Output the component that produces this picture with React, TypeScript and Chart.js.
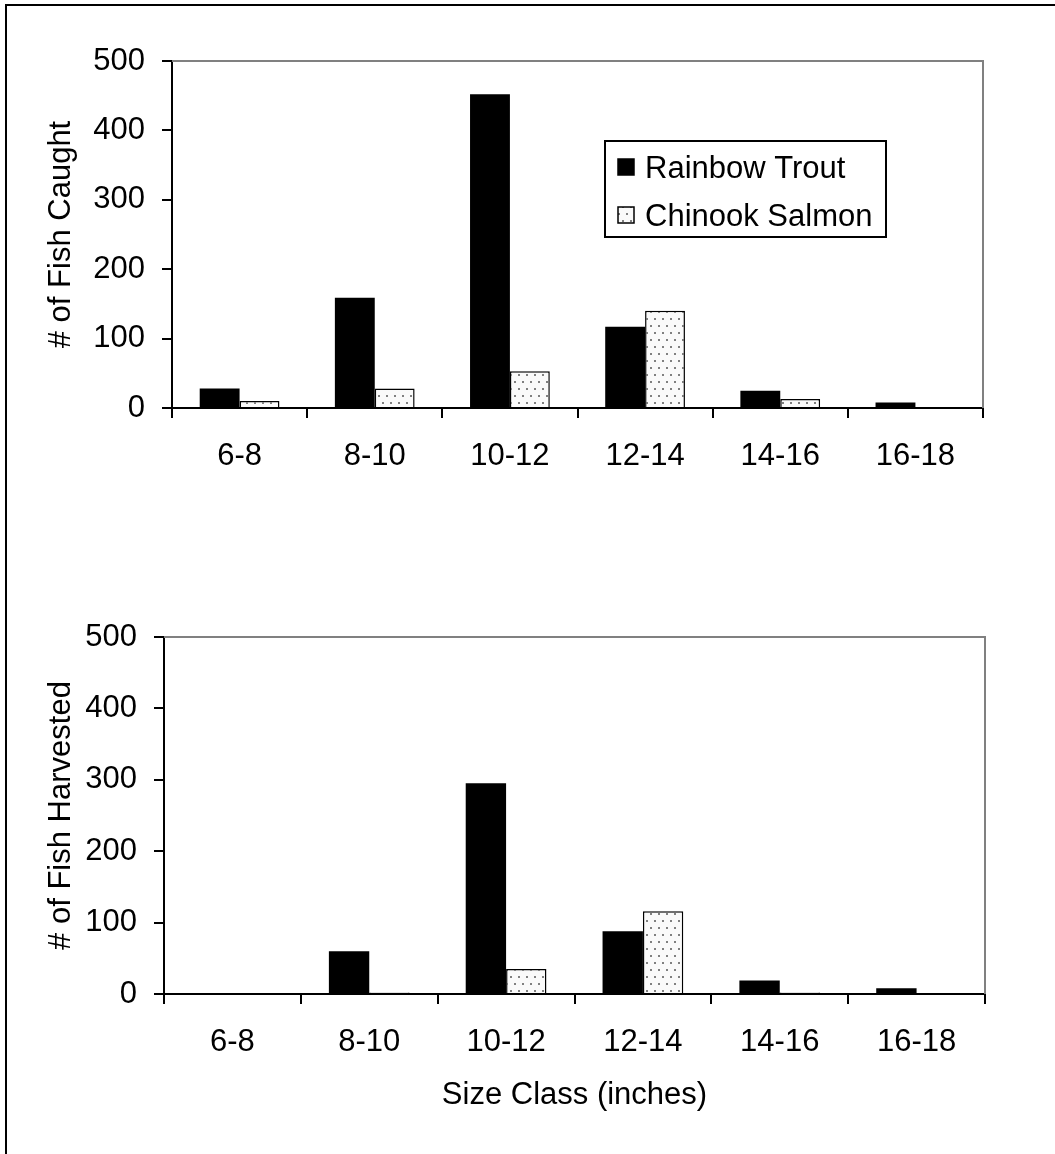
import React, { useEffect, useRef } from "react";
import { Chart, registerables } from "chart.js";

Chart.register(...registerables);

// ---- Data ----
const sizeClasses = ["6-8", "8-10", "10-12", "12-14", "14-16", "16-18"];
const seriesNames = ["Rainbow Trout", "Chinook Salmon"];
const caughtRainbow = [28, 159, 452, 117, 25, 8];
const caughtChinook = [10, 28, 53, 140, 13, 0];
const harvestedRainbow = [0, 60, 295, 88, 19, 8];
const harvestedChinook = [0, 2, 35, 116, 2, 0];
const yTicks = [0, 100, 200, 300, 400, 500];
const yTitleTop = "# of Fish Caught";
const yTitleBottom = "# of Fish Harvested";
const xTitle = "Size Class (inches)";

const FONT = "'Liberation Sans', Arial, sans-serif";
const FS = 31;

function makeDotPattern(): CanvasPattern | string {
  const c = document.createElement("canvas");
  c.width = 8;
  c.height = 14;
  const g = c.getContext("2d");
  if (!g) return "#fff";
  g.fillStyle = "#fafafa";
  g.fillRect(0, 0, 8, 14);
  g.fillStyle = "#808080";
  g.fillRect(2, 3, 2, 2);
  g.fillRect(6, 10, 2, 2);
  const p = g.createPattern(c, "repeat");
  return p || "#fff";
}

const frameTopRightPlugin = {
  id: "frameTopRight",
  afterDraw(chart: any) {
    const { ctx, chartArea } = chart;
    ctx.save();
    ctx.strokeStyle = "#808080";
    ctx.lineWidth = 2;
    ctx.beginPath();
    ctx.moveTo(chartArea.left, chartArea.top);
    ctx.lineTo(chartArea.right, chartArea.top);
    ctx.lineTo(chartArea.right, chartArea.bottom);
    ctx.stroke();
    ctx.restore();
  },
};

const boxLegendPlugin = {
  id: "boxLegend",
  afterDraw(chart: any, _args: any, opts: any) {
    if (!opts || !opts.show) return;
    const { ctx } = chart;
    const { x, y, w, h, rowH, first } = opts;
    ctx.save();
    ctx.fillStyle = "#fff";
    ctx.fillRect(x, y, w, h);
    ctx.strokeStyle = "#000";
    ctx.lineWidth = 2;
    ctx.strokeRect(x, y, w, h);
    ctx.font = `${FS}px ${FONT}`;
    ctx.textBaseline = "middle";
    ctx.textAlign = "left";
    chart.data.datasets.forEach((ds: any, i: number) => {
      const cy = y + first + i * rowH;
      const mx = x + 13;
      ctx.fillStyle = ds.backgroundColor;
      ctx.fillRect(mx, cy - 8, 16, 16);
      ctx.strokeStyle = "#000";
      ctx.lineWidth = 1.5;
      ctx.strokeRect(mx, cy - 8, 16, 16);
      ctx.fillStyle = "#000";
      ctx.fillText(ds.label, x + 40, cy + 2);
    });
    ctx.restore();
  },
};

function buildConfig(
  rainbow: number[],
  chinook: number[],
  yTitle: string,
  opts: { padTop: number; padRight: number; yWidth: number; xHeight: number; showXTitle: boolean; legend: any }
): any {
  const pattern = makeDotPattern();
  return {
    type: "bar",
    data: {
      labels: sizeClasses,
      datasets: [
        {
          label: seriesNames[0],
          data: rainbow,
          backgroundColor: "#000000",
          borderWidth: 0,
          categoryPercentage: 0.59,
          barPercentage: 1,
        },
        {
          label: seriesNames[1],
          data: chinook,
          backgroundColor: pattern,
          borderColor: "#000000",
          borderWidth: 1.5,
          borderSkipped: "bottom",
          categoryPercentage: 0.59,
          barPercentage: 1,
        },
      ],
    },
    options: {
      responsive: false,
      animation: false,
      devicePixelRatio: 1,
      layout: { padding: { top: opts.padTop, right: opts.padRight, left: 0, bottom: 0 } },
      plugins: {
        legend: { display: false },
        tooltip: { enabled: false },
        boxLegend: opts.legend,
      },
      scales: {
        x: {
          grid: {
            offset: true,
            drawOnChartArea: false,
            drawTicks: true,
            tickLength: 10,
            color: "#000",
            lineWidth: 2,
          },
          border: { display: true, color: "#000", width: 2 },
          ticks: { color: "#000", font: { family: FONT, size: FS }, padding: 20, maxRotation: 0 },
          title: {
            display: opts.showXTitle,
            text: xTitle,
            color: "#000",
            font: { family: FONT, size: FS },
            padding: { top: 0, bottom: 40 },
          },
          afterFit(scale: any) {
            scale.height = opts.xHeight;
          },
        },
        y: {
          min: yTicks[0],
          max: yTicks[yTicks.length - 1],
          ticks: {
            stepSize: yTicks[1] - yTicks[0],
            color: "#000",
            font: { family: FONT, size: FS },
            padding: 17,
          },
          grid: {
            drawOnChartArea: false,
            drawTicks: true,
            tickLength: 10,
            color: "#000",
            lineWidth: 2,
          },
          border: { display: true, color: "#000", width: 2 },
          title: {
            display: true,
            text: yTitle,
            color: "#000",
            font: { family: FONT, size: FS },
            padding: { top: 43, bottom: 0 },
          },
          afterFit(scale: any) {
            scale.width = opts.yWidth;
          },
        },
      },
    },
    plugins: [frameTopRightPlugin, boxLegendPlugin],
  };
}

export default function App() {
  const topRef = useRef<HTMLCanvasElement>(null);
  const botRef = useRef<HTMLCanvasElement>(null);

  useEffect(() => {
    Chart.defaults.font.family = FONT;
    Chart.defaults.color = "#000";
    const charts: Chart[] = [];
    if (topRef.current) {
      charts.push(
        new Chart(
          topRef.current,
          buildConfig(caughtRainbow, caughtChinook, yTitleTop, {
            padTop: 61,
            padRight: 72,
            yWidth: 172,
            xHeight: 152,
            showXTitle: false,
            legend: { show: true, x: 605, y: 141, w: 281, h: 96, first: 26, rowH: 48 },
          })
        )
      );
    }
    if (botRef.current) {
      charts.push(
        new Chart(
          botRef.current,
          buildConfig(harvestedRainbow, harvestedChinook, yTitleBottom, {
            padTop: 77,
            padRight: 70,
            yWidth: 164,
            xHeight: 160,
            showXTitle: true,
            legend: { show: false },
          })
        )
      );
    }
    return () => charts.forEach((c) => c.destroy());
  }, []);

  return (
    <div
      style={{
        position: "absolute",
        left: 0,
        top: 0,
        width: 1055,
        height: 1154,
        background: "#fff",
        overflow: "hidden",
      }}
    >
      <div
        style={{
          position: "absolute",
          left: 5,
          top: 4,
          width: 1200,
          height: 1300,
          borderLeft: "2px solid #000",
          borderTop: "2px solid #000",
        }}
      />
      <canvas ref={topRef} width={1055} height={560} style={{ position: "absolute", left: 0, top: 0 }} />
      <canvas ref={botRef} width={1055} height={594} style={{ position: "absolute", left: 0, top: 560 }} />
    </div>
  );
}
